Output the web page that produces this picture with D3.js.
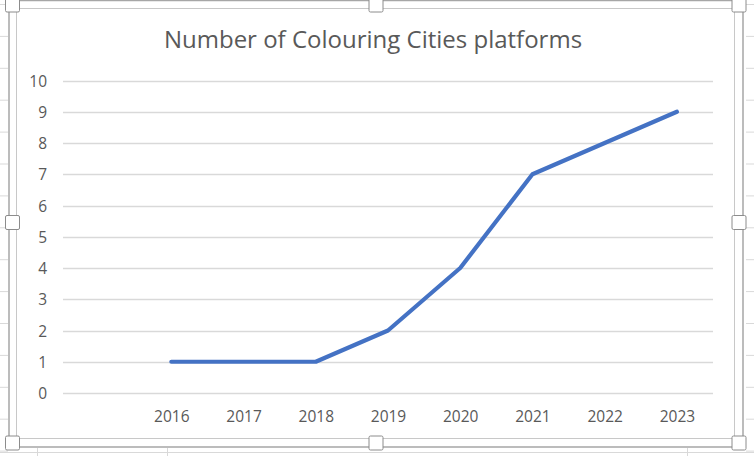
<!DOCTYPE html>
<html>
<head>
<meta charset="utf-8">
<script src="https://cdn.jsdelivr.net/npm/d3@7"></script>
<style>
  html, body { margin: 0; padding: 0; background: #fff; }
  svg { display: block; }
</style>
</head>
<body>
<svg id="chart" width="754" height="456"></svg>
<script>
// ---- data ----
const categories = ["", "2016", "2017", "2018", "2019", "2020", "2021", "2022", "2023"];
const years = ["2016", "2017", "2018", "2019", "2020", "2021", "2022", "2023"];
const platforms = [1, 1, 1, 2, 4, 7, 8, 9];
const yTicks = [0, 1, 2, 3, 4, 5, 6, 7, 8, 9, 10];
const chartTitle = "Number of Colouring Cities platforms";

const W = 754, H = 456;
const svg = d3.select("#chart");
const font = "'Open Sans', 'Noto Sans', sans-serif";
const textColor = "#595959";

// spreadsheet background gridlines (outside the chart)
const sheet = svg.append("g").attr("stroke", "#d9d9d9").attr("stroke-width", 1);
const rowYs = d3.range(0, 15).map(i => 4.5 + i * 31.9);
rowYs.forEach(y => {
  sheet.append("line").attr("x1", 0).attr("x2", 8).attr("y1", y).attr("y2", y);
  sheet.append("line").attr("x1", 746).attr("x2", W).attr("y1", y).attr("y2", y);
});
[37.5, 167.5, 687.5].forEach(x => {
  sheet.append("line").attr("x1", x).attr("x2", x).attr("y1", 448).attr("y2", H);
});
sheet.append("line").attr("x1", 0).attr("x2", W).attr("y1", 452.5).attr("y2", 452.5);

// selection frame
svg.append("rect").attr("x", 9).attr("y", 0.5).attr("width", 734).attr("height", 446.5)
  .attr("fill", "#fff").attr("stroke", "#a6a6a6").attr("stroke-width", 1.5);
// chart area border
svg.append("rect").attr("x", 16.5).attr("y", 8.5).attr("width", 718).attr("height", 430)
  .attr("fill", "#fff").attr("stroke", "#c8c8c8").attr("stroke-width", 1);

// scales
const plot = { left: 63, right: 713, top: 80.5, bottom: 393 };
const x = d3.scalePoint().domain(categories).range([plot.left, plot.right]).padding(0.5);
const y = d3.scaleLinear().domain([0, 10]).range([plot.bottom, plot.top]);

// gridlines
svg.append("g").selectAll("line").data(yTicks).join("line")
  .attr("x1", plot.left).attr("x2", plot.right)
  .attr("y1", d => Math.round(y(d)) + 0.5).attr("y2", d => Math.round(y(d)) + 0.5)
  .attr("stroke", "#d9d9d9").attr("stroke-width", 1.3);

// y axis
const yAxis = svg.append("g").attr("transform", `translate(${plot.left - 16},0)`)
  .call(d3.axisLeft(y).tickValues(yTicks).tickSize(0).tickPadding(0));
yAxis.select(".domain").remove();
yAxis.selectAll("text").attr("font-family", font).attr("font-size", 15.5)
  .attr("fill", textColor).attr("dy", "0.36em");

// x axis
const xAxis = svg.append("g").attr("transform", `translate(0,${plot.bottom})`)
  .call(d3.axisBottom(x).tickSize(0).tickPadding(0));
xAxis.select(".domain").remove();
xAxis.selectAll("text").attr("font-family", font).attr("font-size", 15.5)
  .attr("fill", textColor).attr("dy", "0").attr("y", 29);

// line
const lineGen = d3.line().x((d, i) => x(years[i])).y(d => y(d));
svg.append("path").datum(platforms)
  .attr("d", lineGen)
  .attr("fill", "none").attr("stroke", "#4472C4").attr("stroke-width", 4.2)
  .attr("stroke-linecap", "round").attr("stroke-linejoin", "round");

// title
svg.append("text").attr("x", 373).attr("y", 48).attr("text-anchor", "middle")
  .attr("font-family", font).attr("font-size", 24).attr("fill", textColor)
  .text(chartTitle);

// selection handles
const handles = [
  [12.5, 5], [376, 5], [739, 5],
  [12.5, 222.5], [739, 222.5],
  [12.5, 443], [376, 443], [739, 443]
];
svg.append("g").selectAll("rect").data(handles).join("rect")
  .attr("x", d => d[0] - 7).attr("y", d => d[1] - 7)
  .attr("width", 14).attr("height", 14).attr("rx", 1.5)
  .attr("fill", "#fff").attr("stroke", "#8c8c8c").attr("stroke-width", 1);
</script>
</body>
</html>
